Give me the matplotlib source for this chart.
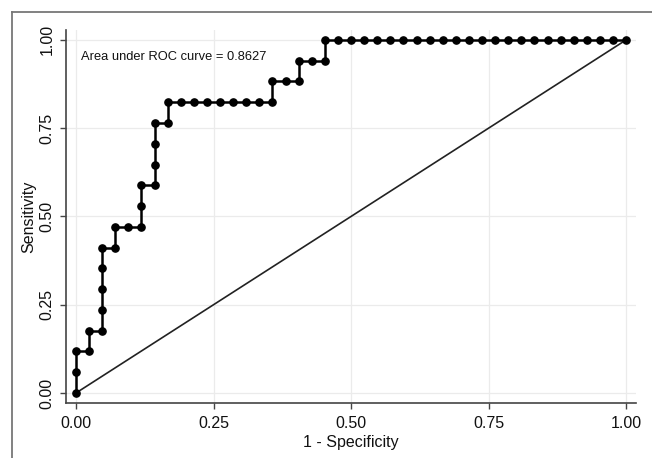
import numpy as np
import matplotlib
matplotlib.use("Agg")
import matplotlib.pyplot as plt
from matplotlib.lines import Line2D

plt.rcParams['font.family'] = ['Liberation Sans', 'DejaVu Sans']

# ROC points as counts: 42 negatives, 17 positives
n_neg, n_pos = 42, 17
fp_count = [0, 0, 0, 1, 1, 2, 2, 2, 2, 2, 3, 3, 4, 5, 5, 5, 6, 6, 6, 6, 7, 7,
            8, 9, 10, 11, 12, 13, 14, 15, 15, 16, 17, 17, 18, 19, 19,
            20, 21, 22, 23, 24, 25, 26, 27, 28, 29, 30, 31, 32, 33, 34, 35,
            36, 37, 38, 39, 40, 41, 42]
tp_count = [0, 1, 2, 2, 3, 3, 4, 5, 6, 7, 7, 8, 8, 8, 9, 10, 10, 11, 12, 13, 13, 14,
            14, 14, 14, 14, 14, 14, 14, 14, 15, 15, 15, 16, 16, 16, 17,
            17, 17, 17, 17, 17, 17, 17, 17, 17, 17, 17, 17, 17, 17, 17, 17,
            17, 17, 17, 17, 17, 17, 17]
auc_text = "Area under ROC curve = 0.8627"
ticks = [0.0, 0.25, 0.5, 0.75, 1.0]
tick_labels = ["0.00", "0.25", "0.50", "0.75", "1.00"]

fpr = np.array(fp_count) / n_neg
tpr = np.array(tp_count) / n_pos

fig = plt.figure(figsize=(6.52, 4.58), dpi=100)
ax = fig.add_axes([0.1012, 0.1201, 0.8743, 0.8144])

ax.plot([0, 1], [0, 1], color='#222222', linewidth=1.2, zorder=2)
ax.plot(fpr, tpr, color='black', linewidth=1.8, marker='o', markersize=5.2, zorder=3)

ax.set_xlim(-0.0182, 1.018)
ax.set_ylim(-0.0283, 1.028)
ax.set_xticks(ticks)
ax.set_xticklabels(tick_labels)
ax.set_yticks(ticks)
ax.set_yticklabels(tick_labels, rotation=90, va='center')
ax.tick_params(direction='out', length=4.3, width=1.0, color='#444444',
               labelsize=11.5, labelcolor='#111111')
ax.tick_params(axis='x', pad=5)
ax.tick_params(axis='y', pad=4)
ax.grid(True, color='#ebebeb', linewidth=0.9)
ax.set_axisbelow(True)
for s in ['top', 'right']:
    ax.spines[s].set_visible(False)
for s in ['left', 'bottom']:
    ax.spines[s].set_color('#444444')
    ax.spines[s].set_linewidth(1.2)

ax.set_xlabel("1 - Specificity", fontsize=11.5, labelpad=3, color='#111111')
ax.set_ylabel("Sensitivity", fontsize=11.5, labelpad=2, color='#111111')
ax.text(0.009, 0.952, auc_text, fontsize=9.3, va='center', ha='left', color='#111111')

# outer frame (left and top edges)
fig.add_artist(Line2D([12 / 652, 12 / 652], [0, 1 - 12 / 458], transform=fig.transFigure,
                      color='#777777', linewidth=1.3))
fig.add_artist(Line2D([12 / 652, 1], [1 - 12 / 458, 1 - 12 / 458], transform=fig.transFigure,
                      color='#777777', linewidth=1.3))

fig.savefig("out.png", dpi=100)
